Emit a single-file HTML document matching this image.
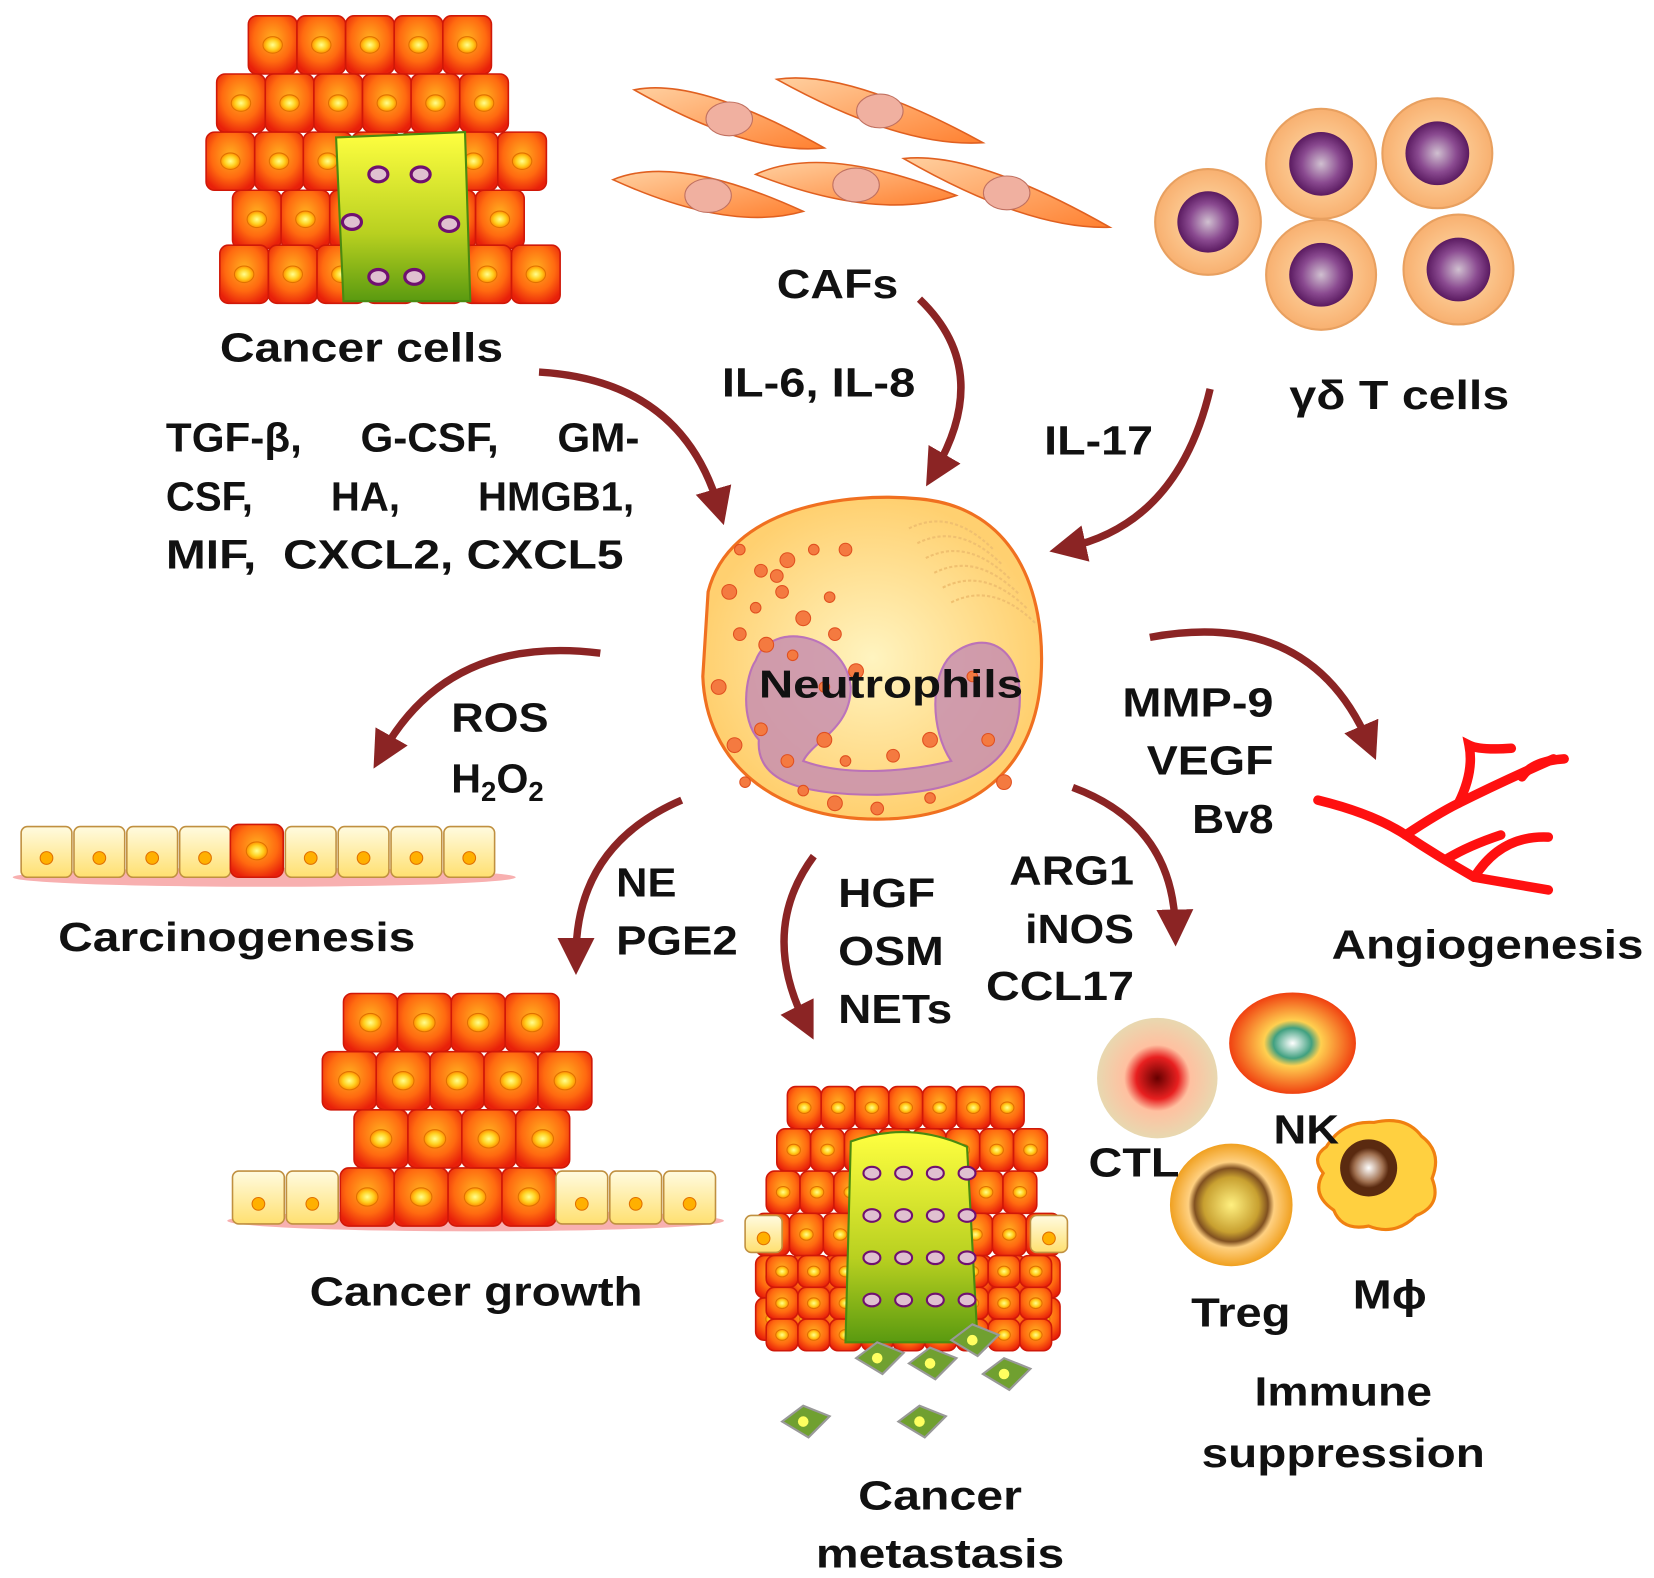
<!DOCTYPE html>
<html><head><meta charset="utf-8">
<style>
html,body{margin:0;padding:0;background:#fff;}
svg{display:block;}
text{font-family:"Liberation Sans",Arial,sans-serif;font-weight:bold;fill:#111;}
</style></head>
<body>
<svg id="s" width="1654" height="1578" viewBox="0 0 1565 1493" preserveAspectRatio="none" xmlns="http://www.w3.org/2000/svg">
<defs>
<radialGradient id="cell" cx="50%" cy="40%" r="65%"><stop offset="0" stop-color="#ffb020"/><stop offset="0.6" stop-color="#ff6a10"/><stop offset="1" stop-color="#e8200a"/></radialGradient>
<radialGradient id="nuc" cx="50%" cy="50%" r="50%"><stop offset="0" stop-color="#ffff90"/><stop offset="0.6" stop-color="#ffd020"/><stop offset="1" stop-color="#ff9000"/></radialGradient>
<linearGradient id="grn" x1="0" y1="0" x2="0" y2="1"><stop offset="0" stop-color="#ffff40"/><stop offset="0.6" stop-color="#b8d020"/><stop offset="1" stop-color="#5a9a10"/></linearGradient>
<linearGradient id="pale" x1="0" y1="0" x2="0" y2="1"><stop offset="0" stop-color="#fffbe0"/><stop offset="1" stop-color="#ffe070"/></linearGradient>
<radialGradient id="neu" cx="50%" cy="50%" r="50%"><stop offset="0" stop-color="#fff4c0"/><stop offset="1" stop-color="#ffd070"/></radialGradient>
<radialGradient id="tc" cx="50%" cy="50%" r="50%"><stop offset="0" stop-color="#ffe0b0"/><stop offset="1" stop-color="#f8b070"/></radialGradient>
<radialGradient id="tn" cx="50%" cy="50%" r="50%"><stop offset="0" stop-color="#d0c0d0"/><stop offset="0.6" stop-color="#8a4a90"/><stop offset="1" stop-color="#5a1a60"/></radialGradient>
<linearGradient id="caf" x1="0" y1="0" x2="1" y2="1"><stop offset="0" stop-color="#ffd0a0"/><stop offset="1" stop-color="#ff8030"/></linearGradient>
<radialGradient id="ctl" cx="50%" cy="50%" r="50%"><stop offset="0" stop-color="#600"/><stop offset="0.35" stop-color="#e82020"/><stop offset="0.55" stop-color="#ffc0a0"/><stop offset="1" stop-color="#e8d8b0"/></radialGradient>
<radialGradient id="nk" cx="50%" cy="50%" r="50%"><stop offset="0" stop-color="#fff"/><stop offset="0.3" stop-color="#40a080"/><stop offset="0.45" stop-color="#ffd050"/><stop offset="1" stop-color="#f04010"/></radialGradient>
<radialGradient id="treg" cx="50%" cy="50%" r="50%"><stop offset="0" stop-color="#fff080"/><stop offset="0.45" stop-color="#c8a030"/><stop offset="0.6" stop-color="#805020"/><stop offset="0.7" stop-color="#ffd080"/><stop offset="1" stop-color="#f0a020"/></radialGradient>
<radialGradient id="mp" cx="50%" cy="50%" r="50%"><stop offset="0" stop-color="#fff"/><stop offset="0.5" stop-color="#a07050"/><stop offset="0.7" stop-color="#5a2a10"/><stop offset="1" stop-color="#5a2a10"/></radialGradient>
<marker id="ah" viewBox="0 0 10 10" refX="5" refY="5" markerWidth="5" markerHeight="5" orient="auto"><path d="M0,0 L10,5 L0,10 z" fill="#8b2424"/></marker>
</defs>
<g id="cells"></g>

<g>
<path d="M670,560 C690,480 800,465 870,472 C960,480 990,560 985,640 C980,720 930,775 830,775 C730,775 668,720 665,640 Z" fill="url(#neu)" stroke="#f07020" stroke-width="3"/>
<path d="M715,625 C730,585 800,600 805,650 C805,690 770,700 760,720 C800,735 860,730 900,720 C880,690 880,640 900,620 C930,595 965,610 965,660 C965,720 920,750 830,752 C760,752 715,740 718,700 C700,680 705,640 715,625 Z" fill="#c890b0" stroke="#b060c0" stroke-width="2" opacity="0.85"/>
<g id="dots"></g>
</g>

<g fill="none" stroke="#8b2424" stroke-width="7" marker-end="url(#ah)">
<path d="M510,352 Q645,360 680,480"/>
<path d="M870,283 Q940,350 885,445"/>
<path d="M1145,368 Q1115,495 1010,518"/>
<path d="M568,618 Q425,600 362,712"/>
<path d="M645,757 Q545,800 545,905"/>
<path d="M770,810 Q718,880 762,968"/>
<path d="M1015,745 Q1110,780 1112,878"/>
<path d="M1088,603 Q1240,575 1295,703"/>
</g>

<g fill="none" stroke="#ff1010" stroke-width="9" stroke-linecap="round">
<path d="M1247,757 Q1300,770 1330,790 Q1360,810 1395,830 L1465,842"/>
<path d="M1330,790 Q1360,770 1380,760 Q1420,740 1470,718"/>
<path d="M1380,760 Q1395,730 1390,705 Q1400,710 1430,708"/>
<path d="M1440,735 Q1450,720 1480,718"/>
<path d="M1395,830 Q1420,790 1465,792"/>
<path d="M1370,812 Q1390,800 1420,790"/>
</g>

<circle cx="1095" cy="1020" r="57" fill="url(#ctl)"/>
<ellipse cx="1223" cy="987" rx="60" ry="48" fill="url(#nk)"/>
<circle cx="1165" cy="1140" r="58" fill="url(#treg)"/>
<path d="M1255,1085 Q1270,1060 1300,1062 Q1330,1055 1345,1075 Q1365,1090 1355,1115 Q1365,1140 1340,1150 Q1320,1170 1295,1160 Q1270,1165 1262,1145 Q1240,1130 1252,1110 Q1240,1095 1255,1085Z" fill="#ffd040" stroke="#f08010" stroke-width="3"/>
<circle cx="1295" cy="1105" r="27" fill="url(#mp)"/>

<g font-size="39">
<text x="208" y="342" textLength="268" lengthAdjust="spacingAndGlyphs">Cancer cells</text>
<text x="735" y="282" textLength="115" lengthAdjust="spacingAndGlyphs">CAFs</text>
<text x="683" y="375" textLength="183" lengthAdjust="spacingAndGlyphs">IL-6, IL-8</text>
<text x="988" y="430" textLength="103" lengthAdjust="spacingAndGlyphs">IL-17</text>
<text x="1220" y="387" textLength="208" lengthAdjust="spacingAndGlyphs">γδ T cells</text>
<text x="157" y="427" textLength="448" lengthAdjust="spacingAndGlyphs" xml:space="preserve">TGF-β,     G-CSF,     GM-</text>
<text x="157" y="483" textLength="443" lengthAdjust="spacingAndGlyphs" xml:space="preserve">CSF,       HA,       HMGB1,</text>
<text x="157" y="538" textLength="433" lengthAdjust="spacingAndGlyphs" xml:space="preserve">MIF,  CXCL2, CXCL5</text>
<text x="718" y="660" font-size="37" textLength="250" lengthAdjust="spacingAndGlyphs">Neutrophils</text>
<text x="427" y="692" textLength="92" lengthAdjust="spacingAndGlyphs">ROS</text>
<text x="427" y="750">H<tspan font-size="26" dy="8">2</tspan><tspan dy="-8">O</tspan><tspan font-size="26" dy="8">2</tspan></text>
<text x="1062" y="678" textLength="143" lengthAdjust="spacingAndGlyphs">MMP-9</text>
<text x="1085" y="733" textLength="120" lengthAdjust="spacingAndGlyphs">VEGF</text>
<text x="1128" y="788" textLength="77" lengthAdjust="spacingAndGlyphs">Bv8</text>
<text x="55" y="900" textLength="338" lengthAdjust="spacingAndGlyphs">Carcinogenesis</text>
<text x="583" y="848" textLength="57" lengthAdjust="spacingAndGlyphs">NE</text>
<text x="583" y="903" textLength="115" lengthAdjust="spacingAndGlyphs">PGE2</text>
<text x="793" y="858" textLength="92" lengthAdjust="spacingAndGlyphs">HGF</text>
<text x="793" y="913" textLength="100" lengthAdjust="spacingAndGlyphs">OSM</text>
<text x="793" y="968" textLength="108" lengthAdjust="spacingAndGlyphs">NETs</text>
<text x="955" y="837" textLength="118" lengthAdjust="spacingAndGlyphs">ARG1</text>
<text x="970" y="892" textLength="103" lengthAdjust="spacingAndGlyphs">iNOS</text>
<text x="933" y="946" textLength="140" lengthAdjust="spacingAndGlyphs">CCL17</text>
<text x="1260" y="907" textLength="295" lengthAdjust="spacingAndGlyphs">Angiogenesis</text>
<text x="1205" y="1082" textLength="62" lengthAdjust="spacingAndGlyphs">NK</text>
<text x="1030" y="1113" textLength="86" lengthAdjust="spacingAndGlyphs">CTL</text>
<text x="1127" y="1255" textLength="94" lengthAdjust="spacingAndGlyphs">Treg</text>
<text x="1280" y="1238" textLength="70" lengthAdjust="spacingAndGlyphs">Mϕ</text>
<text x="1187" y="1330" textLength="168" lengthAdjust="spacingAndGlyphs">Immune</text>
<text x="1137" y="1388" textLength="268" lengthAdjust="spacingAndGlyphs">suppression</text>
<text x="293" y="1235" textLength="315" lengthAdjust="spacingAndGlyphs">Cancer growth</text>
<text x="812" y="1428" textLength="155" lengthAdjust="spacingAndGlyphs">Cancer</text>
<text x="772" y="1483" textLength="235" lengthAdjust="spacingAndGlyphs">metastasis</text>
</g>
</svg>
<script>
const NS="http://www.w3.org/2000/svg";
const g=document.getElementById('cells');
function el(t,a,p){const e=document.createElementNS(NS,t);for(const k in a)e.setAttribute(k,a[k]);(p||g).appendChild(e);return e;}
function cell(x,y,w,h,fill,nf){el('rect',{x:x,y:y,width:w,height:h,rx:8,fill:fill,stroke:'#d01808','stroke-width':1.5});el('ellipse',{cx:x+w/2,cy:y+h/2,rx:Math.min(w,h)*0.2,ry:Math.min(w,h)*0.17,fill:nf||'url(#nuc)',stroke:'#e07000','stroke-width':1});}
function pale(x,y,w,h){el('rect',{x:x,y:y,width:w,height:h,rx:6,fill:'url(#pale)',stroke:'#c09040','stroke-width':1.5});el('circle',{cx:x+w/2,cy:y+h*0.62,r:6,fill:'#ffb000',stroke:'#e07000'});}
for(let r=0;r<5;r++){let xs=[[235,5],[205,6],[195,7],[220,6],[208,7]][r];let y=[15,70,125,180,232][r];for(let i=0;i<xs[1];i++){cell(xs[0]+i*46,y,46,55,'url(#cell)');}}
el('path',{d:'M318,130 L440,125 L445,285 L325,285 Z',fill:'url(#grn)',stroke:'#4a8a10','stroke-width':2});
[[358,165],[398,165],[333,210],[425,212],[358,262],[392,262]].forEach(p=>el('ellipse',{cx:p[0],cy:p[1],rx:9,ry:7,fill:'#e0c0d0',stroke:'#701070','stroke-width':3}));
[[580,170,760,200],[600,85,780,140],[735,75,930,135],[715,165,905,185],[855,150,1050,215]].forEach(c=>{
 const [x1,y1,x2,y2]=c;const mx=(x1+x2)/2,my=(y1+y2)/2;
 el('path',{d:`M${x1},${y1} Q${mx-30},${my-40} ${x2},${y2} Q${mx+20},${my+35} ${x1},${y1}Z`,fill:'url(#caf)',stroke:'#e06020','stroke-width':1.5});
 el('ellipse',{cx:mx,cy:my,rx:22,ry:16,fill:'#f0b0a0',stroke:'#c07060'});});
[[1143,210,50],[1250,155,52],[1360,145,52],[1250,260,52],[1380,255,52]].forEach(c=>{el('circle',{cx:c[0],cy:c[1],r:c[2],fill:'url(#tc)',stroke:'#e8a060','stroke-width':2});el('circle',{cx:c[0],cy:c[1],r:c[2]*0.58,fill:'url(#tn)'});});
el('ellipse',{cx:250,cy:830,rx:238,ry:9,fill:'#f8b0b0'});
for(let i=0;i<9;i++){if(i==4)cell(218,780,50,50,'url(#cell)');else pale(20+i*50,782,48,48);}
el('ellipse',{cx:450,cy:1155,rx:235,ry:10,fill:'#f8b0b0'});
for(let i=0;i<9;i++){const x=220+i*51;if(i>=2&&i<=5)cell(x,1105,51,55,'url(#cell)');else pale(x,1108,49,50);}
for(let r=0;r<3;r++){let xo=[325,305,335][r],n=[4,5,4][r];for(let i=0;i<n;i++)cell(xo+i*51,[940,995,1050][r],51,55,'url(#cell)');}
for(let r=0;r<6;r++){let y=1028+r*40;let n=[7,8,8,9,9,9][r];let xo=[745,735,725,715,715,715][r];for(let i=0;i<n;i++)cell(xo+i*32,y,32,40,'url(#cell)');}
pale(705,1150,35,35);pale(975,1150,35,35);
for(let r=0;r<3;r++)for(let i=0;i<9;i++)cell(725+i*30,1188+r*30,30,30,'url(#cell)');
el('path',{d:'M805,1080 Q860,1060 915,1085 L925,1270 L800,1270 Z',fill:'url(#grn)',stroke:'#4a8a10','stroke-width':2});
for(let r=0;r<4;r++)for(let i=0;i<4;i++)el('ellipse',{cx:825+i*30,cy:1110+r*40,rx:8,ry:6,fill:'#e0c0d0',stroke:'#701070','stroke-width':2});
[[830,1285],[880,1290],[950,1300],[760,1345],[870,1345],[920,1268]].forEach(p=>{el('path',{d:`M${p[0]-20},${p[1]} L${p[0]},${p[1]-15} L${p[0]+25},${p[1]-5} L${p[0]+5},${p[1]+15} Z`,fill:'#70a030',stroke:'#999','stroke-width':2});el('circle',{cx:p[0],cy:p[1],r:5,fill:'#ffff60'});});
const d=document.getElementById('dots');
const pts=[[700,520],[720,540],[745,530],[770,520],[800,520],[690,560],[715,575],[740,560],[760,585],[785,565],[700,600],[725,610],[750,620],[790,600],[810,635],[780,650],[720,690],[695,705],[705,740],[745,720],[780,700],[800,720],[845,715],[880,700],[920,640],[935,700],[950,740],[880,755],[830,765],[790,760],[760,748],[735,545],[680,650]];
pts.forEach((p,i)=>el('circle',{cx:p[0],cy:p[1],r:5+(i%3),fill:'#f47a40',stroke:'#e05020'},d));
for(let i=0;i<6;i++)el('path',{d:`M${860+i*8},${500+i*14} q40,-20 80,20`,fill:'none',stroke:'#f0c070','stroke-width':2,'stroke-dasharray':'3,2'},d);
</script>
</body></html>
